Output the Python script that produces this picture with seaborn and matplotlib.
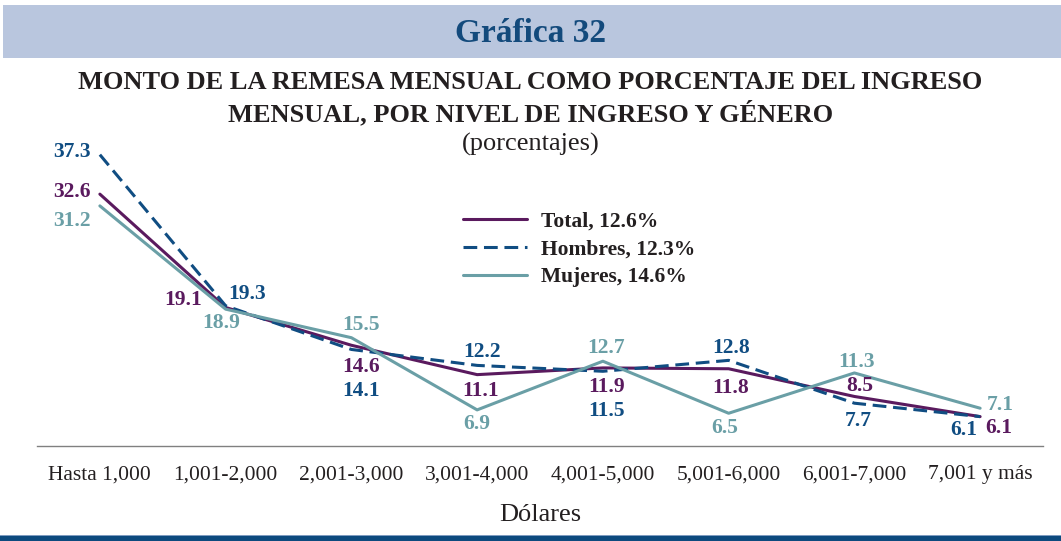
import matplotlib
matplotlib.use("Agg")
import matplotlib.pyplot as plt
import seaborn as sns
import pandas as pd
from matplotlib.patches import Rectangle
from matplotlib.lines import Line2D

categories = ["Hasta 1,000", "1,001-2,000", "2,001-3,000", "3,001-4,000",
              "4,001-5,000", "5,001-6,000", "6,001-7,000", "7,001 y más"]
total = [32.6, 19.1, 14.6, 11.1, 11.9, 11.8, 8.5, 6.1]
hombres = [37.3, 19.3, 14.1, 12.2, 11.5, 12.8, 7.7, 6.1]
mujeres = [31.2, 18.9, 15.5, 6.9, 12.7, 6.5, 11.3, 7.1]
series_names = ["Total, 12.6%", "Hombres, 12.3%", "Mujeres, 14.6%"]

# styles
colors = {"Total, 12.6%": "#5a1a5e", "Hombres, 12.3%": "#104d82", "Mujeres, 14.6%": "#6a9fa6"}
label_offsets = {
    "Total, 12.6%": [(-28, 2), (-43, 7), (10, -22), (3, -16), (4, -19), (2, -19), (5, 10), (19, -11)],
    "Hombres, 12.3%": [(-28, 3), (21, 12), (10, -42), (5, 13), (4, -40), (2, 12), (4, -18), (-16, -13)],
    "Mujeres, 14.6%": [(-28, -15), (-4, -14), (10, 13), (0, -14), (3, 13), (-4, -15), (2, 11), (20, 3)],
}
DASH = (4.5, 2.2)

sns.set_theme(style="white")
plt.rcParams["font.family"] = ["Liberation Serif", "DejaVu Serif"]

rows = []
for name, vals in zip(series_names, [total, hombres, mujeres]):
    for c, v in zip(categories, vals):
        rows.append({"Nivel": c, "Valor": v, "Serie": name})
df = pd.DataFrame(rows)

fig = plt.figure(figsize=(10.61, 5.41), dpi=100)
W, H = 1061, 541

# banner
fig.patches.append(Rectangle((3 / W, 1 - 58 / H), 1 - 3 / W, 53 / H, transform=fig.transFigure,
                             facecolor="#b9c6de", edgecolor="none", zorder=0))
fig.text(0.5, 1 - 33 / H, "Gráfica 32", ha="center", va="center", fontsize=24,
         fontweight="bold", color="#134a7c")
fig.patches.append(Rectangle((0, 0), 1, 5 / H, transform=fig.transFigure,
                             facecolor="#0d4a7e", edgecolor="none", zorder=0))
fig.patches.append(Rectangle((0, 5 / H), 1, 1.5 / H, transform=fig.transFigure,
                             facecolor="#7f9cc0", edgecolor="none", zorder=0))

fig.text(0.5, 1 - 83 / H, "MONTO DE LA REMESA MENSUAL COMO PORCENTAJE DEL INGRESO",
         ha="center", va="center", fontsize=19, fontweight="bold", color="#231f20")
fig.text(0.5, 1 - 113 / H, "MENSUAL, POR NIVEL DE INGRESO Y GÉNERO",
         ha="center", va="center", fontsize=19, fontweight="bold", color="#231f20")
fig.text(0.5, 1 - 144 / H, "(porcentajes)", ha="center", va="center", fontsize=19,
         color="#231f20")

ax = fig.add_axes([37 / W, 1 - 446 / H, (1043 - 37) / W, (446 - 140.4) / H])
ax.set_facecolor("none")

sns.lineplot(data=df, x="Nivel", y="Valor", hue="Serie", style="Serie",
             palette=colors, dashes={"Total, 12.6%": "", "Hombres, 12.3%": DASH,
                                     "Mujeres, 14.6%": ""},
             linewidth=2.2, ax=ax, legend=False, sort=False)

for name, vals in zip(series_names, [total, hombres, mujeres]):
    for i, v in enumerate(vals):
        dx, dy = label_offsets[name][i]
        ax.annotate(f"{v:.1f}", (i, v), xytext=(dx, dy), textcoords="offset pixels",
                    ha="center", va="center", fontsize=15.5, fontweight="bold",
                    color=colors[name])

ax.set_xlim(-0.5, len(categories) - 0.5)
ax.set_ylim(2.6, 39)
for s in ["top", "left", "right"]:
    ax.spines[s].set_visible(False)
ax.spines["bottom"].set_color("#808080")
ax.spines["bottom"].set_linewidth(1.0)
ax.set_yticks([])
ax.set_xticks(range(len(categories)))
ax.set_xticklabels(categories, fontsize=15.5, color="#231f20")
ax.set_xticks([i - 0.5 for i in range(len(categories) + 1)], minor=True)
ax.tick_params(axis="x", which="major", length=0, pad=14)
ax.tick_params(axis="x", which="minor", length=8, width=1, color="#808080", direction="out")
ax.set_xlabel("Dólares", fontsize=19, color="#231f20", labelpad=14)
ax.set_ylabel("")

handles = [Line2D([], [], color=colors[n], lw=2.2,
                  linestyle=("--" if n.startswith("Hombres") else "-")) for n in series_names]
handles[1].set_dashes(DASH)
leg = ax.legend(handles, series_names, loc="upper left",
                bbox_to_anchor=(444 / W, 1 - 192 / H), bbox_transform=fig.transFigure,
                frameon=False, handlelength=2.95, handletextpad=0.65, labelspacing=0.36,
                prop={"family": ["Liberation Serif"], "weight": "bold", "size": 15.5})
for t in leg.get_texts():
    t.set_color("#231f20")

fig.savefig("out.png", dpi=100)
